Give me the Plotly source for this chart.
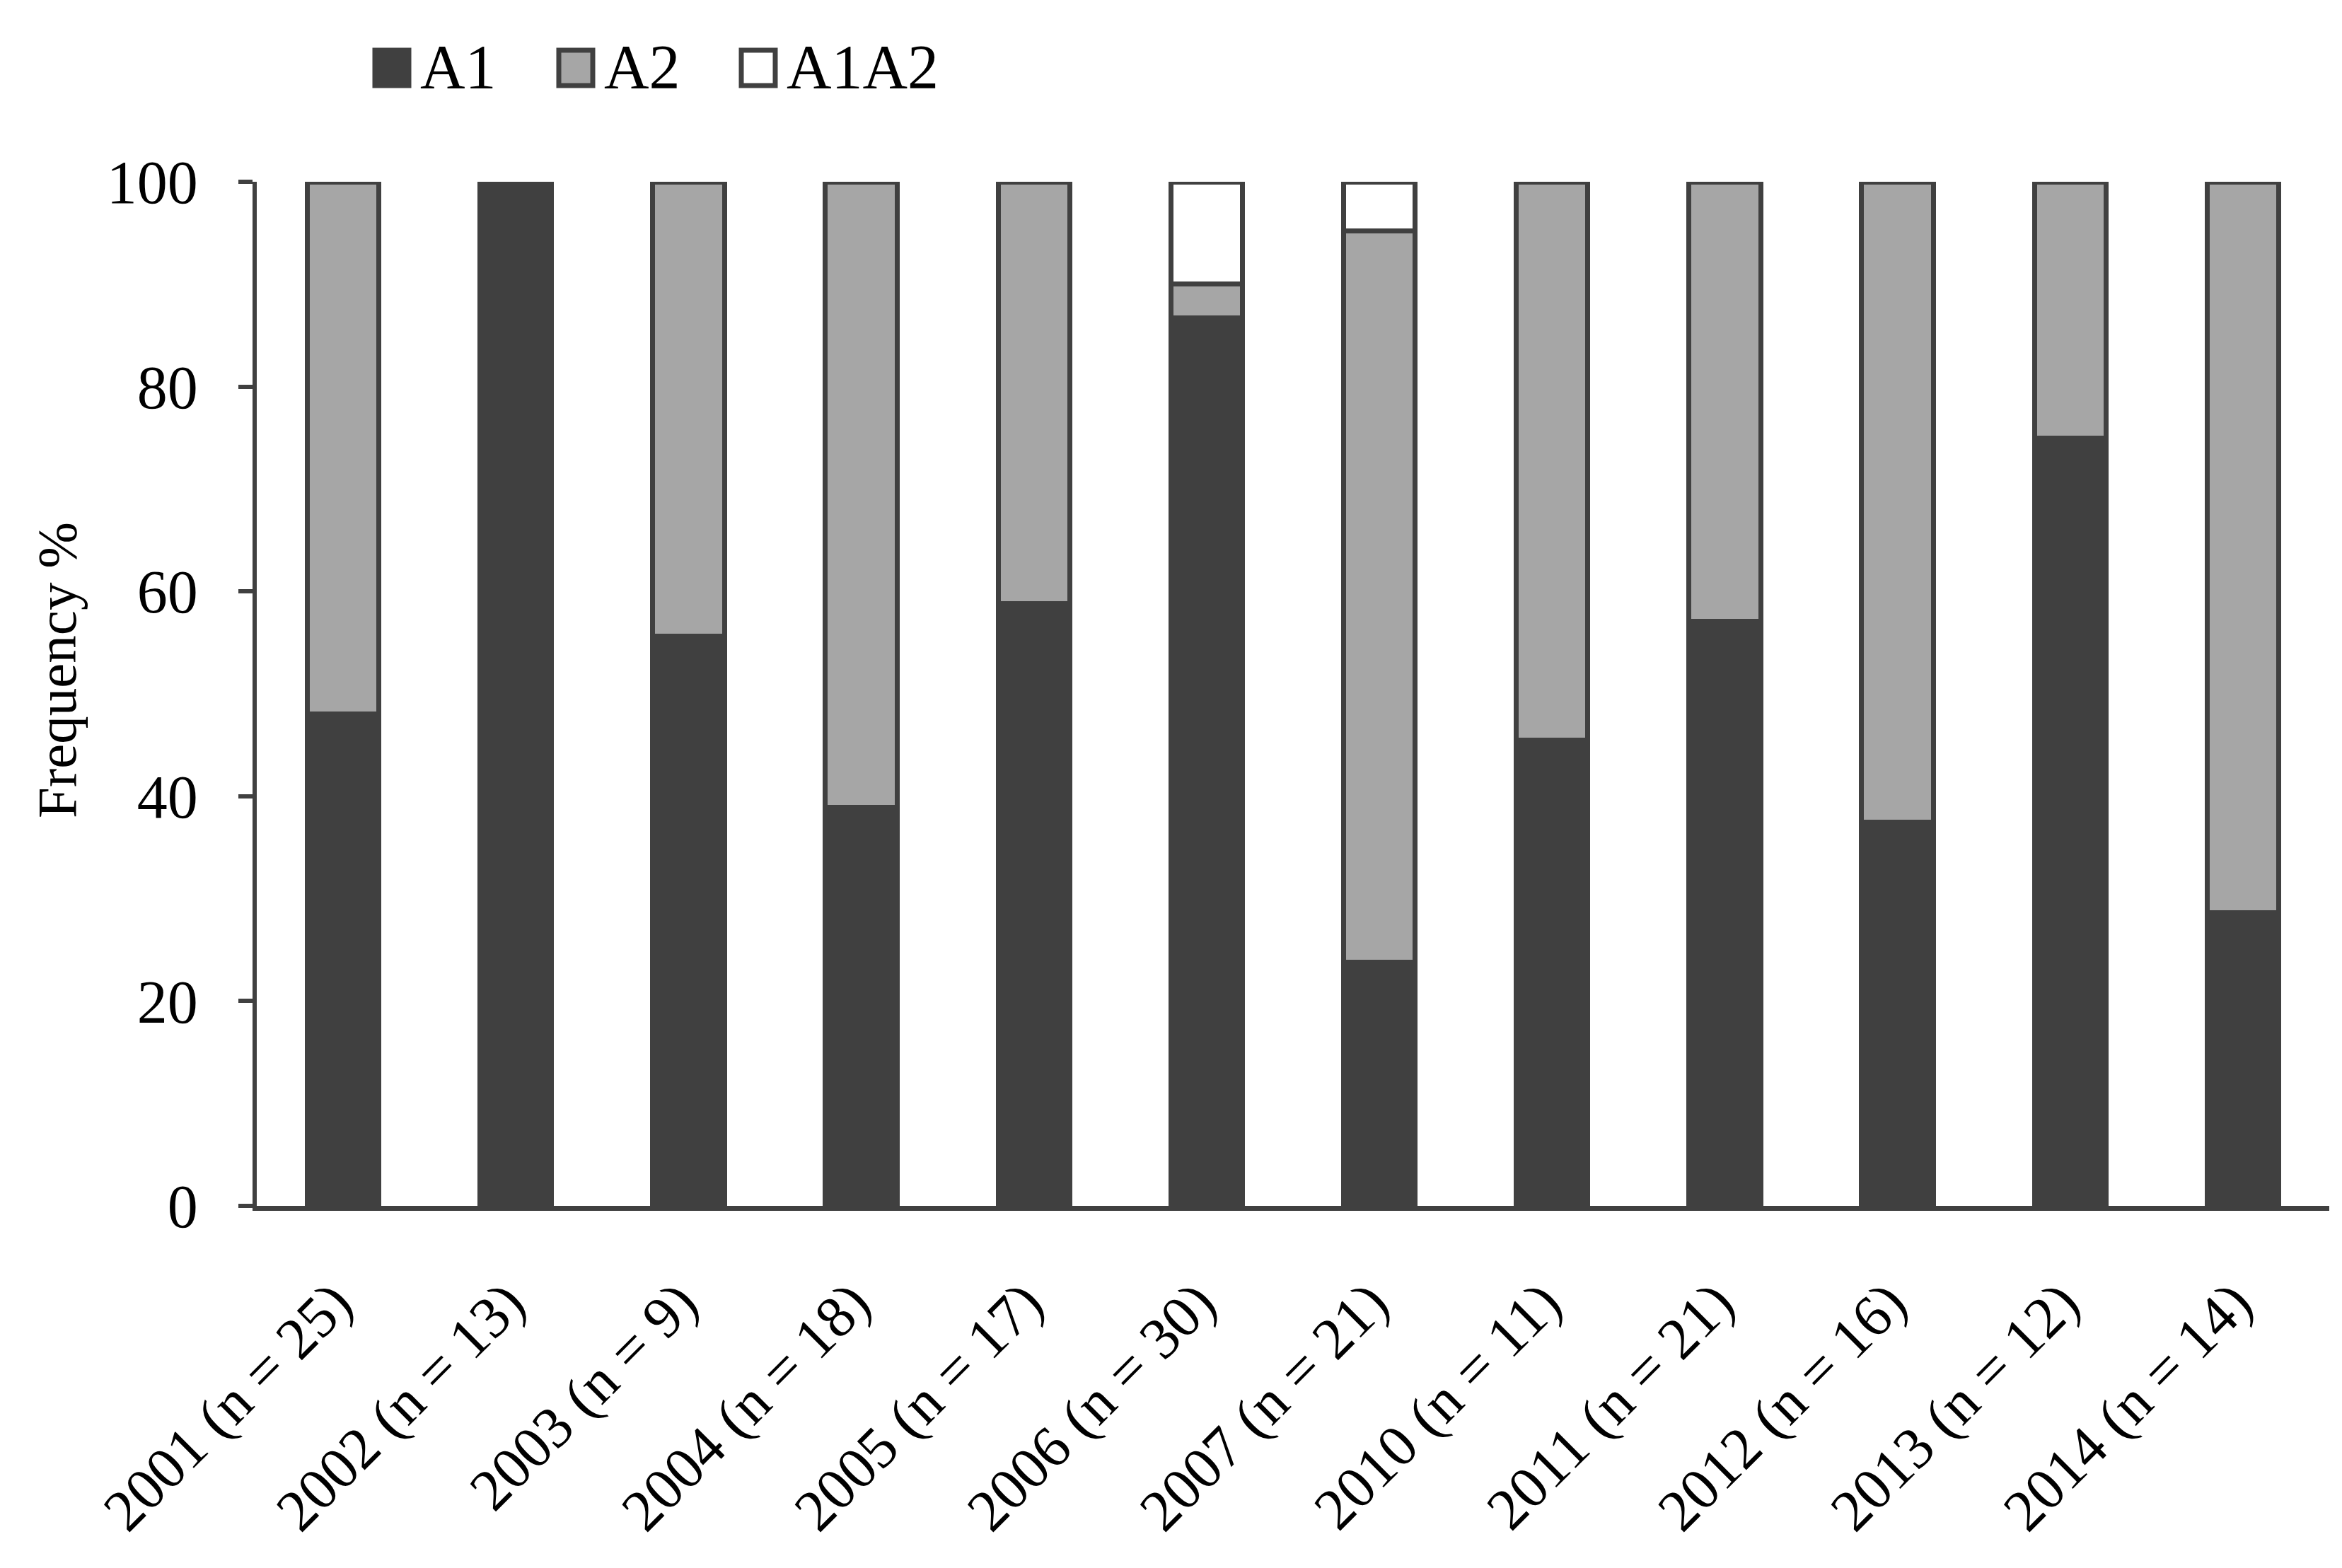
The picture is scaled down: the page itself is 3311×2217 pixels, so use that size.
import plotly.graph_objects as go

categories = ["2001 (n = 25)", "2002 (n = 13)", "2003 (n = 9)", "2004 (n = 18)",
              "2005 (n = 17)", "2006 (n = 30)", "2007 (n = 21)", "2010 (n = 11)",
              "2011 (n = 21)", "2012 (n = 16)", "2013 (n = 12)", "2014 (n = 14)"]
a1 = [48.0, 100.0, 55.6, 38.9, 58.8, 86.7, 23.8, 45.5, 57.1, 37.5, 75.0, 28.6]
a2 = [52.0, 0.0, 44.4, 61.1, 41.2, 3.3, 71.4, 54.5, 42.9, 62.5, 25.0, 71.4]
a1a2 = [0.0, 0.0, 0.0, 0.0, 0.0, 10.0, 4.8, 0.0, 0.0, 0.0, 0.0, 0.0]
series_names = ["A1", "A2", "A1A2"]
series_values = [a1, a2, a1a2]
y_ticks = [0, 20, 40, 60, 80, 100]
y_title = "Frequency %"

W, H = 3311, 2217
OFFX, OFFY = 8, 8  # page body margin
L, R, T, B = 355, 26, 249, 520
EDGE = "#404040"
colors = ["#404040", "#a6a6a6", "#ffffff"]
FONT = "Liberation Serif, Times New Roman, serif"
FS = 86

fig = go.Figure()
for name, vals, col in zip(series_names, series_values, colors):
    fig.add_trace(go.Bar(
        x=categories, y=vals, name=name, showlegend=False,
        marker=dict(color=col, line=dict(color=EDGE, width=7)),
    ))

pw, ph = W - L - R, H - T - B
def px(x):
    return (x - OFFX - L) / pw
def py(y):
    return 1 - (y - OFFY - T) / ph

# manual legend
leg_x = [530, 790, 1048]
for name, col, x0 in zip(series_names, colors, leg_x):
    fig.add_shape(type="rect", xref="paper", yref="paper",
                  x0=px(x0), x1=px(x0 + 48), y0=py(121), y1=py(71),
                  fillcolor=col, line=dict(color=EDGE, width=7))
    fig.add_annotation(xref="paper", yref="paper", x=px(x0 + 62), y=py(94),
                       text=name, showarrow=False, xanchor="left", yanchor="middle",
                       font=dict(family=FONT, size=88, color="black"))

# y-axis title
fig.add_annotation(xref="paper", yref="paper", x=px(80), y=py(948),
                   text=y_title, showarrow=False, textangle=-90,
                   xanchor="center", yanchor="middle",
                   font=dict(family=FONT, size=79, color="black"))

fig.update_layout(
    width=W, height=H, autosize=False,
    barmode="stack", bargap=0.585,
    plot_bgcolor="white", paper_bgcolor="white",
    margin=dict(l=L, r=R, t=T, b=B, pad=0),
    font=dict(family=FONT, size=FS, color="black"),
    xaxis=dict(showline=True, linecolor=EDGE, linewidth=7, ticks="",
               tickangle=-45, tickfont=dict(family=FONT, size=83),
               ticklabelstandoff=48, ticklabelshift=-12,
               showgrid=False),
    yaxis=dict(range=[0, 100], tickvals=y_ticks, showline=True, linecolor=EDGE,
               linewidth=6, ticks="outside", ticklen=20, tickwidth=6, tickcolor=EDGE,
               showgrid=False, zeroline=False, ticklabelstandoff=40,
               tickfont=dict(family=FONT, size=FS)),
)

fig.write_html("out.html")
